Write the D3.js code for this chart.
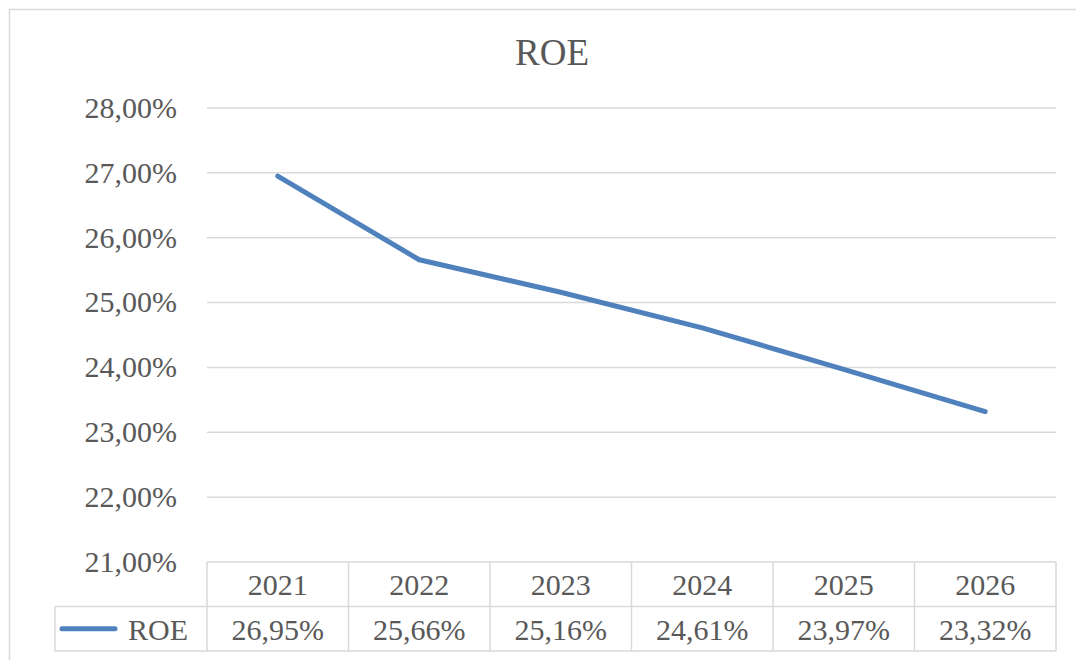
<!DOCTYPE html>
<html>
<head>
<meta charset="utf-8">
<script src="https://cdn.jsdelivr.net/npm/d3@7"></script>
<style>
  body { margin: 0; background: #fff; }
</style>
</head>
<body>
<div id="chart"></div>
<script>
const years = ["2021", "2022", "2023", "2024", "2025", "2026"];
const roeValues = [26.95, 25.66, 25.16, 24.61, 23.97, 23.32];
const roeLabels = ["26,95%", "25,66%", "25,16%", "24,61%", "23,97%", "23,32%"];
const yTicks = [21, 22, 23, 24, 25, 26, 27, 28];
const seriesName = "ROE";

const W = 1076, H = 660;
const plot = { left: 207, right: 1056, top: 108, bottom: 562 };
const rowH = 44.5;
const legendLeft = 55;
const gridColor = "#d9d9d9";
const lineColor = "#4f81bd";
const textColor = "#595959";
const fontFam = "'Liberation Serif', 'Times New Roman', serif";

const svg = d3.select("#chart").append("svg")
    .attr("width", W)
    .attr("height", H)
    .style("font-family", fontFam);

svg.append("rect").attr("width", W).attr("height", H).attr("fill", "#fff");

// chart area border (cropped at right/bottom)
svg.append("rect")
    .attr("x", 9.5).attr("y", 9.5)
    .attr("width", W + 20).attr("height", H + 20)
    .attr("fill", "none")
    .attr("stroke", gridColor)
    .attr("stroke-width", 1.5);

const x = d3.scaleBand()
    .domain(years)
    .range([plot.left, plot.right]);

const y = d3.scaleLinear()
    .domain([21, 28])
    .range([plot.bottom, plot.top]);

function label(sel) {
  return sel.style("font-family", fontFam)
      .style("font-size", "30px")
      .attr("fill", textColor);
}

// title
svg.append("text")
    .attr("x", 552)
    .attr("y", 65)
    .attr("text-anchor", "middle")
    .style("font-family", fontFam)
    .style("font-size", "37px")
    .attr("fill", textColor)
    .text(seriesName);

// gridlines
svg.append("g").selectAll("line")
    .data(yTicks.filter(d => d > 21))
    .enter().append("line")
    .attr("x1", plot.left).attr("x2", plot.right)
    .attr("y1", d => y(d)).attr("y2", d => y(d))
    .attr("stroke", gridColor)
    .attr("stroke-width", 1.5);

// y labels
svg.append("g").selectAll("text")
    .data(yTicks)
    .enter().append("text")
    .attr("x", 177)
    .attr("y", d => y(d))
    .attr("dy", "0.33em")
    .attr("text-anchor", "end")
    .call(label)
    .text(d => d3.format(".2f")(d).replace(".", ",") + "%");

// line
const line = d3.line()
    .x((d, i) => x(years[i]) + x.bandwidth() / 2)
    .y(d => y(d));

svg.append("path")
    .datum(roeValues)
    .attr("d", line)
    .attr("fill", "none")
    .attr("stroke", lineColor)
    .attr("stroke-width", 5)
    .attr("stroke-linecap", "round")
    .attr("stroke-linejoin", "round");

// data table
const t0 = plot.bottom, t1 = t0 + rowH, t2 = t1 + rowH;
const tbl = svg.append("g")
    .attr("stroke", gridColor)
    .attr("stroke-width", 1.5);

tbl.append("line").attr("x1", plot.left).attr("x2", plot.right).attr("y1", t0).attr("y2", t0);
tbl.append("line").attr("x1", legendLeft).attr("x2", plot.right).attr("y1", t1).attr("y2", t1);
tbl.append("line").attr("x1", legendLeft).attr("x2", plot.right).attr("y1", t2).attr("y2", t2);
tbl.append("line").attr("x1", legendLeft).attr("x2", legendLeft).attr("y1", t1).attr("y2", t2);
tbl.selectAll(".vl")
    .data(years.map(d => x(d)).concat([plot.right]))
    .enter().append("line")
    .attr("x1", d => d).attr("x2", d => d)
    .attr("y1", t0).attr("y2", t2);

svg.append("g").selectAll("text")
    .data(years)
    .enter().append("text")
    .attr("x", d => x(d) + x.bandwidth() / 2)
    .attr("y", t0 + rowH / 2)
    .attr("dy", "0.36em")
    .attr("text-anchor", "middle")
    .call(label)
    .text(d => d);

svg.append("g").selectAll("text")
    .data(roeLabels)
    .enter().append("text")
    .attr("x", (d, i) => x(years[i]) + x.bandwidth() / 2)
    .attr("y", t1 + rowH / 2)
    .attr("dy", "0.36em")
    .attr("text-anchor", "middle")
    .call(label)
    .text(d => d);

// legend key
svg.append("line")
    .attr("x1", 62).attr("x2", 115)
    .attr("y1", t1 + rowH / 2).attr("y2", t1 + rowH / 2)
    .attr("stroke", lineColor)
    .attr("stroke-width", 5)
    .attr("stroke-linecap", "round");

svg.append("text")
    .attr("x", 128)
    .attr("y", t1 + rowH / 2)
    .attr("dy", "0.36em")
    .call(label)
    .text(seriesName);
</script>
</body>
</html>
